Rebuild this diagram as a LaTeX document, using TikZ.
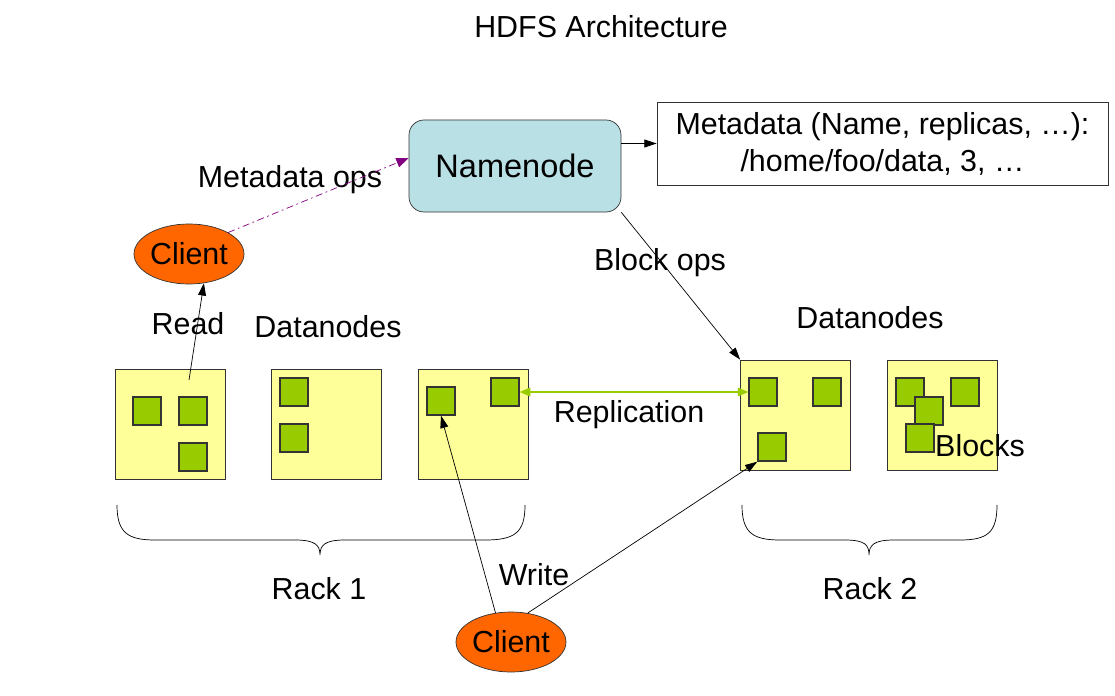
\documentclass[tikz,border=0pt]{standalone}
\usepackage{fontspec}
\setmainfont{Liberation Sans}
\usetikzlibrary{arrows.meta, shapes.geometric, positioning, calc}
\definecolor{nnblue}{RGB}{185,224,229}
\definecolor{dnyellow}{RGB}{255,255,153}
\definecolor{blockgreen}{RGB}{153,204,0}
\definecolor{clientorange}{RGB}{255,102,0}
\definecolor{metapurple}{RGB}{128,0,128}
\definecolor{edgegray}{RGB}{51,51,51}
\newcommand{\hdfsfont}{\fontsize{17.3}{21}\selectfont}

\begin{document}
\begin{tikzpicture}[
  every node/.style={font=\hdfsfont},
  namenode/.style={draw=edgegray, fill=nnblue, rounded corners=0.3cm, minimum width=4.24cm, minimum height=1.84cm, font=\fontsize{18.5}{22}\selectfont},
  metabox/.style={draw=edgegray, fill=white, minimum width=9.02cm, minimum height=1.66cm, inner sep=0pt, align=center},
  datanode/.style={draw=edgegray, fill=dnyellow, minimum size=2.2cm, inner sep=0pt},
  block/.style={draw=edgegray, fill=blockgreen, line width=0.8pt, minimum size=0.56cm, inner sep=0pt},
  client/.style={ellipse, draw=edgegray, fill=clientorange, inner sep=0pt, minimum width=2.2cm, minimum height=1.2cm},
  arr/.style={-{Triangle[length=7pt,width=4.5pt]}, thin},
  metaops/.style={metapurple, thin, dash pattern=on 4pt off 2pt on 1pt off 2pt, -{Triangle[length=7pt,width=5.5pt]}},
  repl/.style={blockgreen, line width=0.7pt, {Triangle[length=6pt,width=5pt]}-{Triangle[length=6pt,width=5pt]}},
]
  \useasboundingbox (0,0) rectangle (22.3,13.9);
  % Title
  \node (title) at (12.02,13.36) {HDFS Architecture};
  % Namenode and its metadata
  \node[namenode] (nn) at (10.3,10.58) {Namenode};
  \node[metabox] (meta) at (17.65,11.03) {Metadata (Name, replicas, …):\\/home/foo/data, 3, …};
  % Clients
  \node[client] (c1) at (3.78,8.82) {Client};
  \node[client] (c2) at (10.22,1.06) {Client};
  % Rack 1 datanodes
  \node[datanode] (d1) at (3.4,5.42) {};
  \node[datanode] (d2) at (6.52,5.42) {};
  \node[datanode] (d3) at (9.46,5.42) {};
  % Rack 2 datanodes
  \node[datanode] (d4) at (15.91,5.6) {};
  \node[datanode] (d5) at (18.85,5.6) {};
  % Blocks
  \node[block] (b11) at (2.94,5.68) {};
  \node[block] (b12) at (3.86,5.68) {};
  \node[block] (b13) at (3.86,4.76) {};
  \node[block] (b21) at (5.88,6.06) {};
  \node[block] (b22) at (5.88,5.14) {};
  \node[block] (b31) at (8.82,5.88) {};
  \node[block] (b32) at (10.1,6.06) {};
  \node[block] (b41) at (15.26,6.06) {};
  \node[block] (b42) at (16.54,6.06) {};
  \node[block] (b43) at (15.44,4.96) {};
  \node[block] (b51) at (18.2,6.06) {};
  \node[block] (b52) at (18.58,5.68) {};
  \node[block] (b53) at (18.4,5.14) {};
  \node[block] (b54) at (19.3,6.06) {};
  % Labels
  \node (lblmeta) at (5.8,10.3) {Metadata ops};
  \node (lblread) at (3.76,7.42) {Read};
  \node (lbldn1) at (6.56,7.36) {Datanodes};
  \node (lblblk) at (13.2,8.64) {Block ops};
  \node (lbldn2) at (17.4,7.54) {Datanodes};
  \node (lblrepl) at (12.58,5.6) {Replication};
  \node (lblblocks) at (19.6,4.98) {Blocks};
  \node (lblwrite) at (10.68,2.4) {Write};
  \node (lblrack1) at (6.38,2.12) {Rack 1};
  \node (lblrack2) at (17.4,2.12) {Rack 2};
  % Connectors
  \draw[arr] (meta.west -| nn.east) -- (meta.west);
  \draw[metaops] (c1.north east) -- ([yshift=0.16cm]nn.west);
  \coordinate (rdstart) at (3.78,6.3);
  \draw[arr] (rdstart) -- (c1.-63);
  \draw[arr] (nn.south east) -- (d4.north west);
  \draw[repl] (b32.east) -- (b41.west);
  \draw[arr] (c2.118) -- (b31.south);
  \draw[arr] (c2.60) -- (b43.south west);
  % Rack braces
  \draw[thin] (2.34,3.8) .. controls (2.34,3.25) and (2.55,3.1) .. (3.1,3.1) -- (5.9,3.1)
    .. controls (6.3,3.1) and (6.4,3.0) .. (6.4,2.8)
    .. controls (6.4,3.0) and (6.5,3.1) .. (6.9,3.1) -- (9.7,3.1)
    .. controls (10.3,3.1) and (10.5,3.25) .. (10.5,3.8);
  \draw[thin] (14.84,3.8) .. controls (14.84,3.25) and (15.05,3.1) .. (15.6,3.1) -- (16.9,3.1)
    .. controls (17.3,3.1) and (17.38,3.0) .. (17.38,2.8)
    .. controls (17.38,3.0) and (17.48,3.1) .. (17.88,3.1) -- (19.2,3.1)
    .. controls (19.75,3.1) and (19.94,3.25) .. (19.94,3.8);
\end{tikzpicture}
\end{document}
